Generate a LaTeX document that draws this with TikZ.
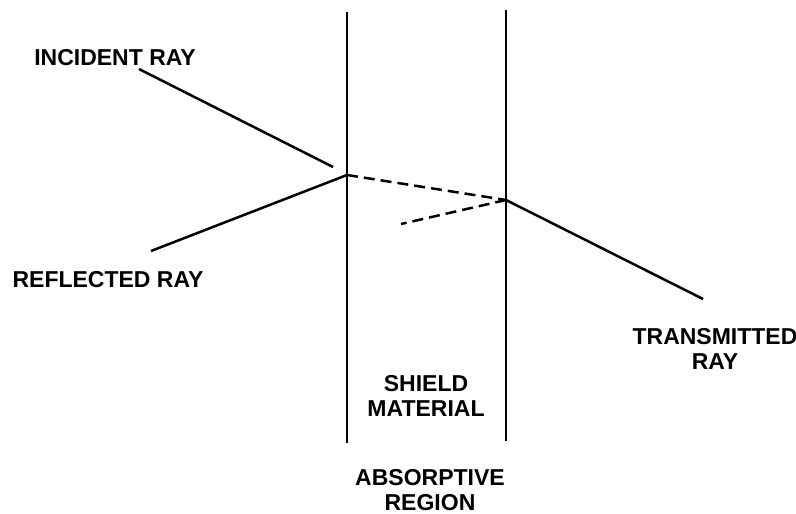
\documentclass[tikz,border=0pt]{standalone}
\usepackage{fontspec}
\setmainfont{Liberation Sans}
\usepackage{tikz}
\newcommand{\lbl}{\fontsize{23}{25.5}\selectfont\bfseries}

\begin{document}
\begin{tikzpicture}[x=1pt,y=-1pt,line width=2.5pt,
    raylabel/.style={font=\lbl,align=center,inner sep=0pt},
    inside/.style={dash pattern=on 11pt off 6pt}]
  \useasboundingbox (0,0) rectangle (796,514);
  % shield walls
  \coordinate (lwtop) at (347,12);
  \coordinate (lwbot) at (347,443);
  \coordinate (rwtop) at (506,10);
  \coordinate (rwbot) at (506,441);
  \draw (lwtop) -- (lwbot);
  \draw (rwtop) -- (rwbot);
  % ray points
  \coordinate (inc) at (139,69);
  \coordinate (incend) at (333,167);
  \coordinate (hitl) at (347,175);
  \coordinate (hitr) at (506,200);
  \coordinate (refl) at (151,251);
  \coordinate (back) at (401,224);
  \coordinate (trans) at (703,299);
  \draw (inc) -- (incend);
  \draw (hitl) -- (refl);
  \draw[inside] (hitl) -- (hitr);
  \draw[inside] (hitr) -- (back);
  \draw (hitr) -- (trans);
  % labels
  \node[raylabel] (incident) at (115,58) {INCIDENT RAY};
  \node[raylabel] (reflected) at (108,280) {REFLECTED RAY};
  \node[raylabel] (transmitted) at (715,349) {TRANSMITTED\\RAY};
  \node[raylabel] (shield) at (426,396) {SHIELD\\MATERIAL};
  \node[raylabel] (absorb) at (430,490) {ABSORPTIVE\\REGION};
\end{tikzpicture}
\end{document}
